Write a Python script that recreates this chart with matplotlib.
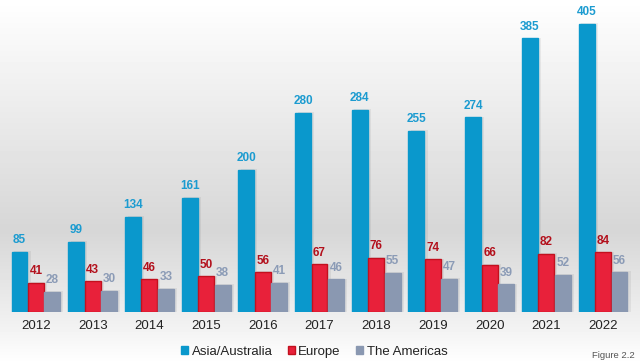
import numpy as np
import matplotlib
matplotlib.use("Agg")
import matplotlib.pyplot as plt
from matplotlib.patches import Patch

plt.rcParams["font.family"] = ["Liberation Sans", "DejaVu Sans"]

years = ["2012", "2013", "2014", "2015", "2016", "2017", "2018", "2019", "2020", "2021", "2022"]
asia = [85, 99, 134, 161, 200, 280, 284, 255, 274, 385, 405]
europe = [41, 43, 46, 50, 56, 67, 76, 74, 66, 82, 84]
americas = [28, 30, 33, 38, 41, 46, 55, 47, 39, 52, 56]

series = [
    ("Asia/Australia", asia, "#0a98cc", "#0a98cc", "#1b9bd0"),
    ("Europe", europe, "#e8213a", "#c3101e", "#b3101c"),
    ("The Americas", americas, "#8a98b1", "#8a98b1", "#8b9bb6"),
]

fig = plt.figure(figsize=(6.4, 3.64), dpi=100)

# background gradient (top row of image = top of figure)
bg = fig.add_axes([0, 0, 1, 1], zorder=0)
grad = np.concatenate([np.linspace(1.0, 0.84, 230), np.linspace(0.84, 0.93, 82),
                       np.linspace(0.93, 1.0, 52)])
bg.imshow(np.repeat(grad[:, None], 2, axis=1), cmap="gray", vmin=0, vmax=1,
          aspect="auto", extent=[0, 1, 0, 1])
bg.axis("off")

ax = fig.add_axes([7.6 / 640, 52 / 364, 623.8 / 640, 312 / 364], zorder=1)
ax.patch.set_alpha(0)
x = np.arange(len(years))
w = 0.29
offs = [-w, 0, w]
for (name, vals, fc, ec, tc), off in zip(series, offs):
    # faint shadow to the right
    ax.bar(x + off + 0.05, np.array(vals) + 1, w, color="black", alpha=0.06,
           lw=0, zorder=1)
    ax.bar(x + off, vals, w * 0.97, color=fc, edgecolor=ec, lw=1.0, zorder=2)
    for xi, v in zip(x, vals):
        ax.text(xi + off, v + 8, str(v), ha="center", va="bottom", color=tc,
                fontsize=8.5, fontweight="bold", zorder=3)

ax.set_xlim(-0.5, 10.5)
ax.set_ylim(0, 439)
ax.set_yticks([])
ax.set_xticks(x)
ax.set_xticklabels(years, fontsize=9.5, color="#222222")
ax.tick_params(axis="x", length=0, pad=6)
for s in ax.spines.values():
    s.set_visible(False)

handles = [Patch(facecolor=fc, edgecolor=ec, label=name) for name, _, fc, ec, _ in series]
fig.legend(handles=handles, loc="center", bbox_to_anchor=(0.491, 0.034), ncol=3,
           frameon=False, fontsize=9.5, handlelength=0.55, handleheight=0.55,
           handletextpad=0.25, columnspacing=1.15, labelcolor="#222222")
fig.text(0.992, 0.012, "Figure 2.2", ha="right", va="bottom", fontsize=6.8, color="#555555")

fig.savefig("out.png", dpi=100)
